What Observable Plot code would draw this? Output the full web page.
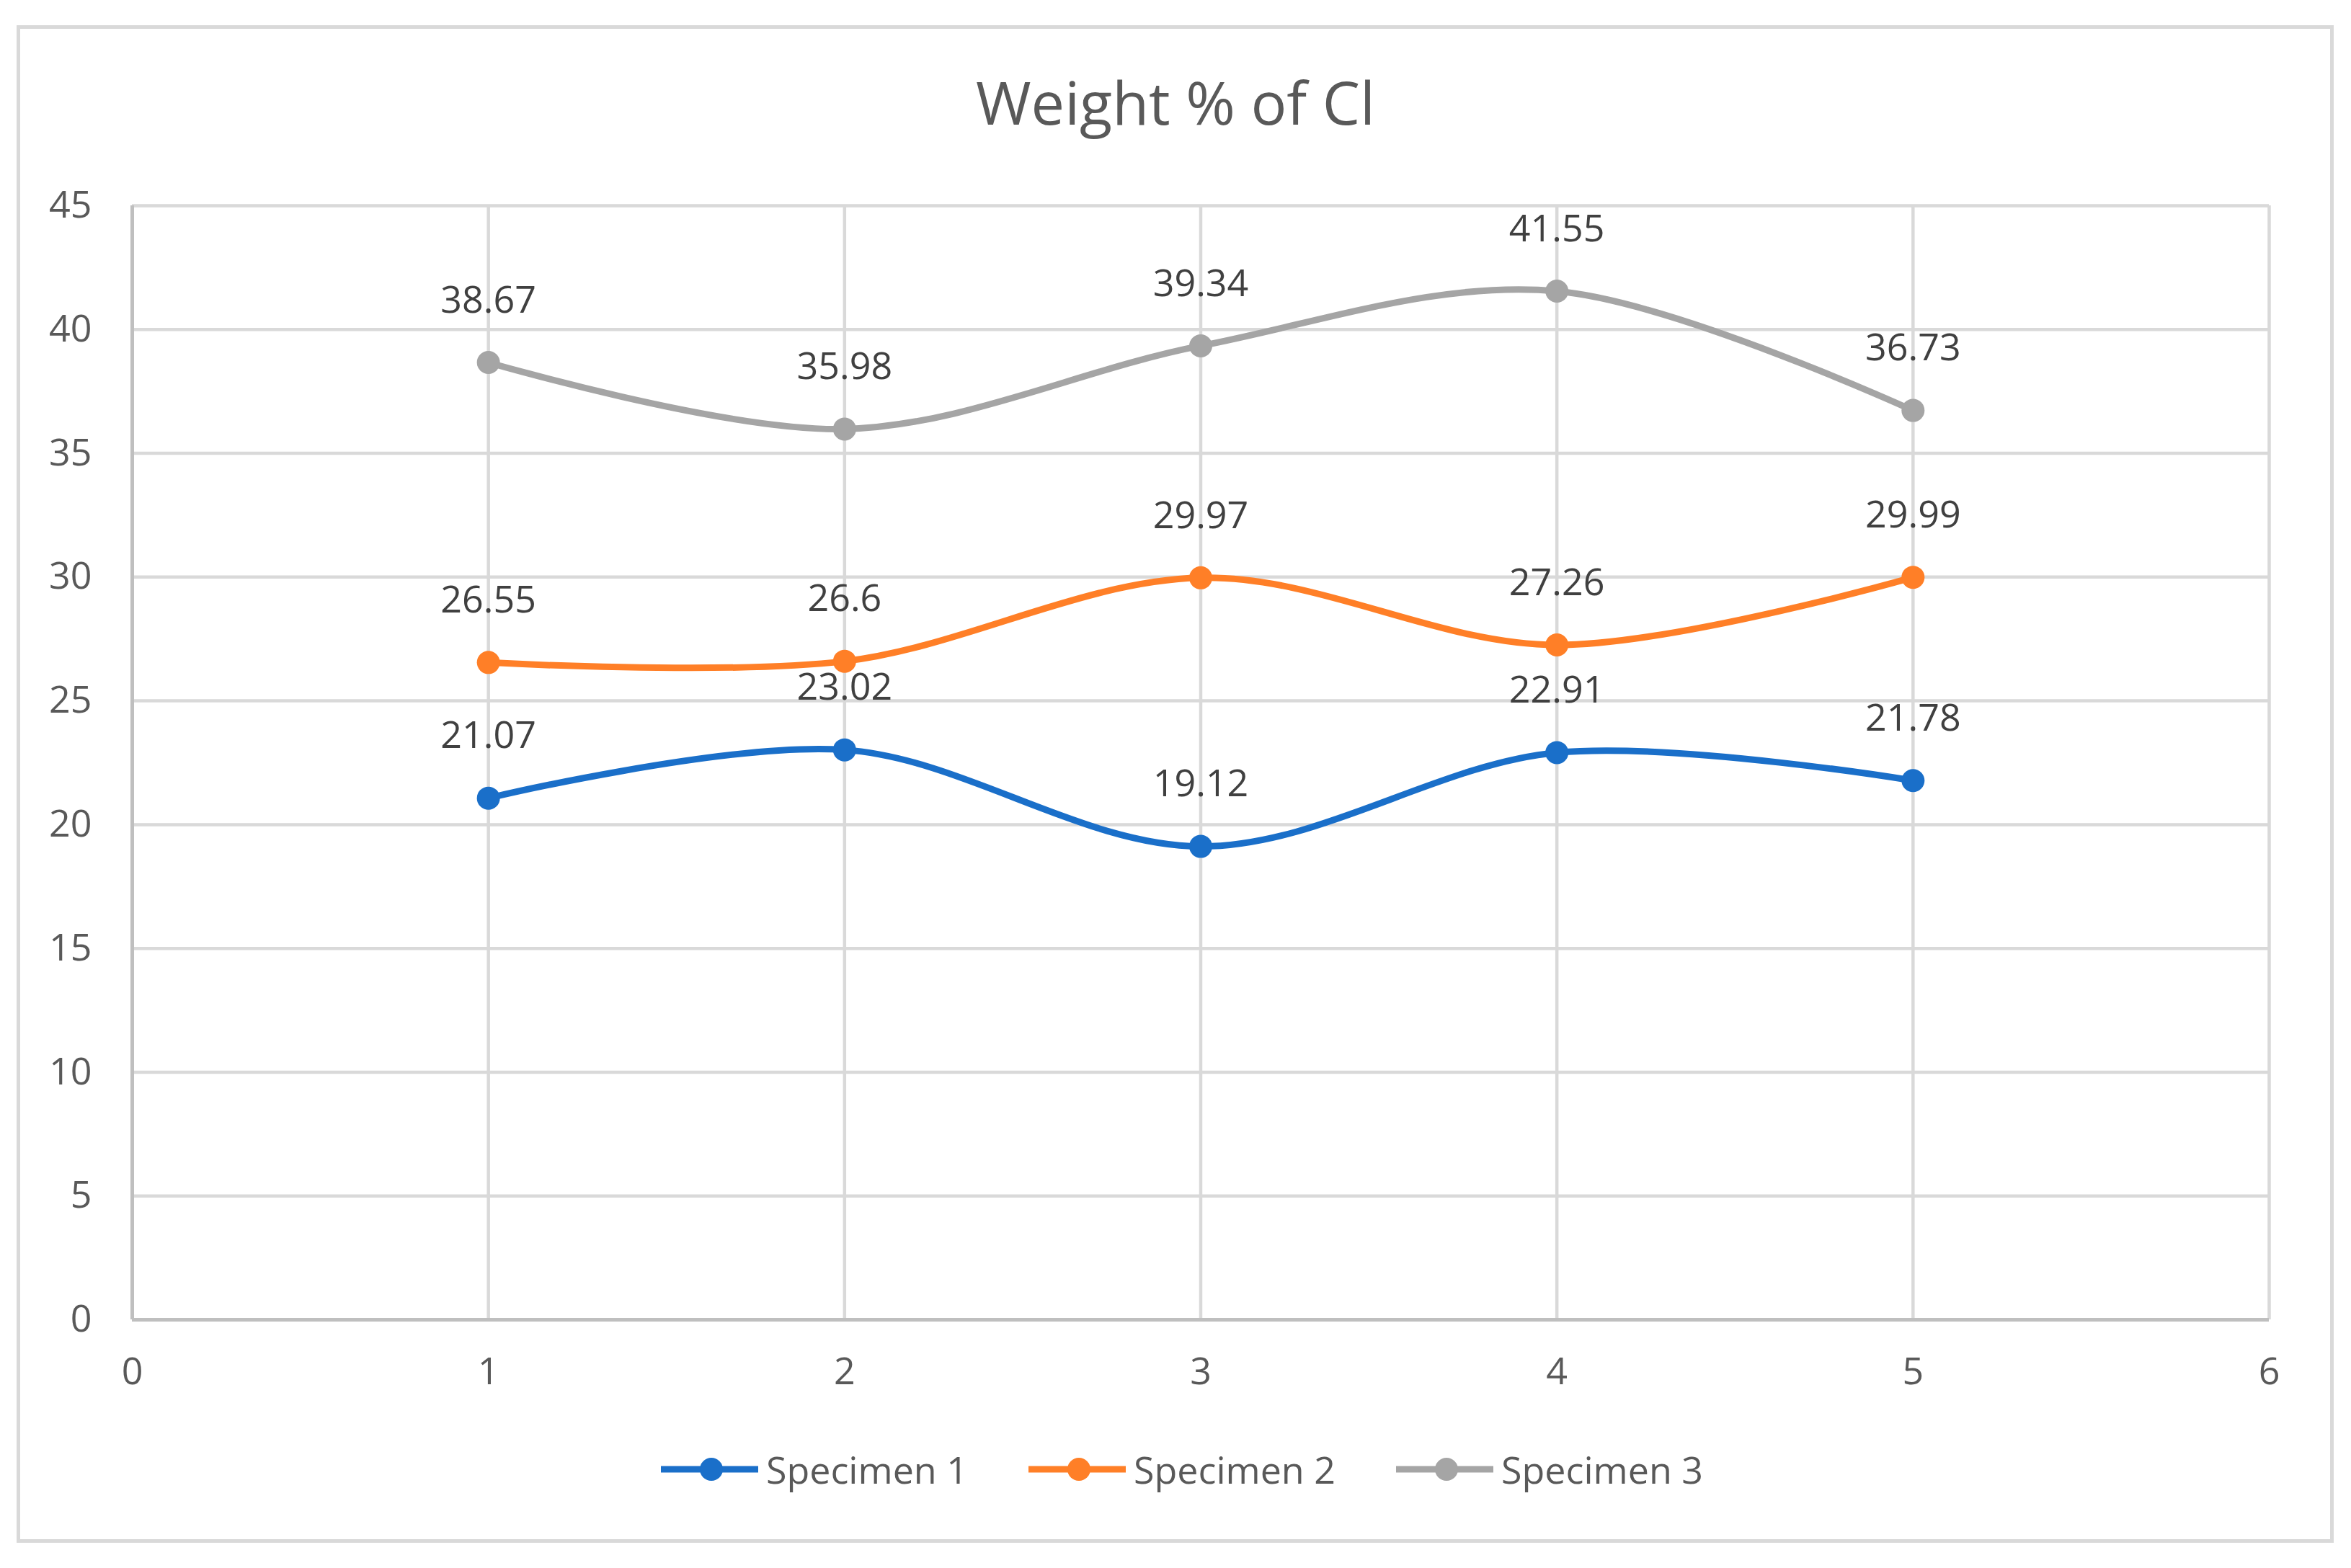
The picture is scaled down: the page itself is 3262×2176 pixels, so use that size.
<!DOCTYPE html>
<html><head><meta charset="utf-8">
<script src="https://cdn.jsdelivr.net/npm/d3@7"></script>
<script src="https://cdn.jsdelivr.net/npm/@observablehq/plot@0.6"></script>
<style>
html,body{margin:0;padding:0;background:#fff;width:3262px;height:2176px;overflow:hidden;font-family:"Open Sans",sans-serif;}
#frame{position:absolute;left:23px;top:35px;width:3215px;height:2106px;border:5px solid #d9d9d9;box-sizing:border-box;}
#title{position:absolute;left:0;top:99px;width:3262px;text-align:center;font-size:83px;line-height:1;color:#595959;}
#chart{position:absolute;left:0;top:200px;}
#legend{position:absolute;left:9px;top:2013px;width:3262px;height:52px;display:flex;justify-content:center;align-items:center;gap:84px;font-size:52px;line-height:1;color:#595959;}
.item{display:flex;align-items:center;gap:11px;}
</style></head><body>
<div id="frame"></div>
<div id="title">Weight % of Cl</div>
<div id="chart"></div>
<div id="legend"></div>
<script>
const xValues = [1, 2, 3, 4, 5];
const seriesNames = ["Specimen 1", "Specimen 2", "Specimen 3"];
const specimen1 = [21.07, 23.02, 19.12, 22.91, 21.78];
const specimen2 = [26.55, 26.6, 29.97, 27.26, 29.99];
const specimen3 = [38.67, 35.98, 39.34, 41.55, 36.73];
const seriesColors = ["#1a6fc9", "#ff7f27", "#a5a5a5"];
const xTicks = [0, 1, 2, 3, 4, 5, 6];
const yTicks = [0, 5, 10, 15, 20, 25, 30, 35, 40, 45];

const seriesValues = [specimen1, specimen2, specimen3];
const rows = seriesNames.flatMap((s, i) =>
  xValues.map((x, j) => ({series: s, x, y: seriesValues[i][j]})));

const chart = Plot.plot({
  width: 3262, height: 1780,
  marginTop: 85, marginBottom: 149, marginLeft: 183, marginRight: 114,
  x: {domain: [0, 6]},
  y: {domain: [0, 45]},
  color: {domain: seriesNames, range: seriesColors},
  style: {fontFamily: "Open Sans", fontSize: "52px", color: "#595959", background: "transparent", overflow: "visible"},
  marks: [
    Plot.gridX(xTicks, {stroke: "#d9d9d9", strokeOpacity: 1, strokeWidth: 4.5}),
    Plot.gridY(yTicks, {stroke: "#d9d9d9", strokeOpacity: 1, strokeWidth: 4.5}),
    Plot.ruleX([0], {stroke: "#bfbfbf", strokeWidth: 5}),
    Plot.ruleY([0], {stroke: "#bfbfbf", strokeWidth: 5}),
    Plot.axisX(xTicks, {tickSize: 0, tickPadding: 53, fontSize: 52, label: null, fill: "#595959", tickFormat: d => String(d)}),
    Plot.axisY(yTicks, {tickSize: 0, tickPadding: 56, fontSize: 52, label: null, fill: "#595959", tickFormat: d => String(d)}),
    Plot.line(rows, {x: "x", y: "y", z: "series", stroke: "series", strokeWidth: 9, curve: "cardinal"}),
    Plot.dot(rows, {x: "x", y: "y", fill: "series", r: 16}),
    Plot.text(rows, {x: "x", y: "y", text: d => String(d.y), dy: -86, fill: "#404040", fontSize: 52})
  ]
});
document.getElementById("chart").appendChild(chart);

const legend = document.getElementById("legend");
seriesNames.forEach((name, i) => {
  const item = document.createElement("div");
  item.className = "item";
  item.innerHTML = `<svg width="135" height="40" viewBox="0 0 135 40"><line x1="0" y1="20" x2="135" y2="20" stroke="${seriesColors[i]}" stroke-width="9"/><circle cx="70" cy="20" r="16" fill="${seriesColors[i]}"/></svg><span>${name}</span>`;
  legend.appendChild(item);
});
</script>
</body></html>
